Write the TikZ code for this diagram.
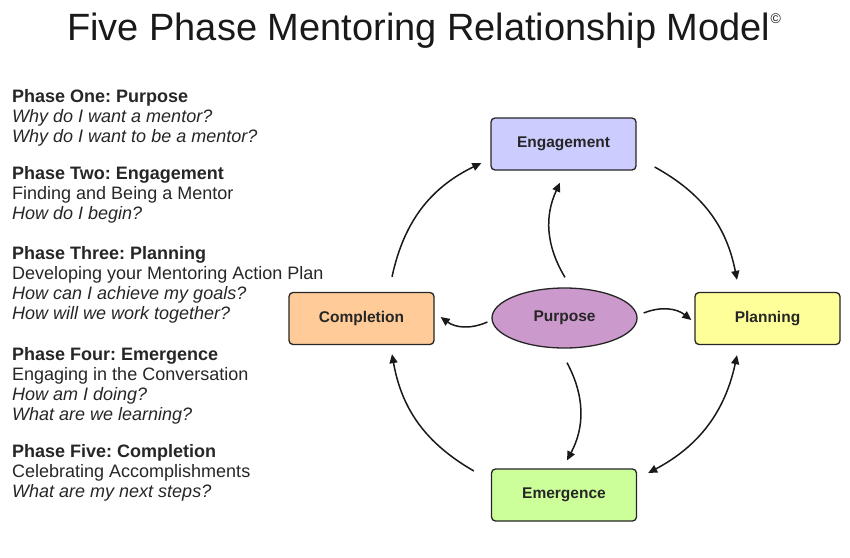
\documentclass[tikz,border=0pt]{standalone}
\usepackage{fontspec}
\setmainfont{Liberation Sans}
\usepackage{xcolor}
\usetikzlibrary{arrows.meta, shapes.geometric}
\frenchspacing

\definecolor{engcol}{HTML}{CCCCFF}
\definecolor{plancol}{HTML}{FFFF99}
\definecolor{compcol}{HTML}{FFCC99}
\definecolor{emercol}{HTML}{CCFF99}
\definecolor{purpcol}{HTML}{CC99CC}

\begin{document}
\begin{tikzpicture}[x=1pt, y=1pt, >={Triangle[length=9pt, width=8pt]},
    box/.style={draw=black!85, line width=1.3pt, rounded corners=4pt, minimum width=145pt,
        minimum height=52pt, font=\fontsize{15.5}{18}\selectfont\bfseries, text=black!85},
    oval/.style={ellipse, draw=black!85, line width=1.3pt, minimum width=145pt,
        minimum height=60pt, font=\fontsize{15.5}{18}\selectfont\bfseries, text=black!85},
    arr/.style={->, line width=1.5pt, black!90},
    phase/.style={anchor=north west, align=left, inner sep=0pt,
        font=\fontsize{18}{20}\selectfont, text=black!85}]
    \useasboundingbox (0,0) rectangle (850,-557);

    % Title
    \node[font=\fontsize{38}{40}\selectfont, anchor=base, text=black!90] (title) at (424,-40)
        {Five Phase Mentoring Relationship Model\raisebox{17pt}{\fontsize{14}{14}\selectfont\copyright}};

    % Phase descriptions
    \node[phase] (ph1) at (12,-89) {\textbf{Phase One: Purpose}\\
        \textit{Why do I want a mentor?}\\ \textit{Why do I want to be a mentor?}};
    \node[phase] (ph2) at (12,-166) {\textbf{Phase Two: Engagement}\\
        Finding and Being a Mentor\\ \textit{How do I begin?}};
    \node[phase] (ph3) at (12,-246) {\textbf{Phase Three: Planning}\\
        Developing your Mentoring Action Plan\\ \textit{How can I achieve my goals?}\\
        \textit{How will we work together?}};
    \node[phase] (ph4) at (12,-347) {\textbf{Phase Four: Emergence}\\
        Engaging in the Conversation\\ \textit{How am I doing?}\\ \textit{What are we learning?}};
    \node[phase] (ph5) at (12,-444) {\textbf{Phase Five: Completion}\\
        Celebrating Accomplishments\\ \textit{What are my next steps?}};

    % Cycle
    \node[box, fill=engcol] (engage) at (563.5,-144) {Engagement};
    \node[box, fill=plancol] (plan) at (767.5,-318.5) {Planning};
    \node[box, fill=compcol] (compl) at (361.5,-318.5) {Completion};
    \node[box, fill=emercol] (emerge) at (564,-495) {Emergence};
    \node[oval, fill=purpcol] (purp) at (564.5,-318) {Purpose};

    % Outer arrows
    \draw[arr] ([shift={(30.5,15)}]compl.north) to[bend left=26] ([shift={(-9,-19)}]engage.west);
    \draw[arr] ([shift={(18,-23)}]engage.east) to[bend left=25] ([shift={(-30.5,12)}]plan.north);
    \draw[arr, <->] ([shift={(-30.5,-10)}]plan.south) to[bend left=25] ([shift={(11,22)}]emerge.east);
    \draw[arr] ([shift={(-17,24)}]emerge.west) to[bend left=25] ([shift={(30.5,-9)}]compl.south);

    % Arrows out of the purpose
    \draw[arr] ([shift={(0.5,10)}]purp.north) to[bend left=28] ([shift={(-3.5,-12)}]engage.south);
    \draw[arr] ([shift={(6,5)}]purp.east) to[bend left=30] ([shift={(-3,-1.5)}]plan.west);
    \draw[arr] ([shift={(-4,-4)}]purp.west) to[bend left=30] ([shift={(6,1.5)}]compl.east);
    \draw[arr] ([shift={(2.5,-14)}]purp.south) to[bend left=28] ([shift={(3,8)}]emerge.north);
\end{tikzpicture}
\end{document}
